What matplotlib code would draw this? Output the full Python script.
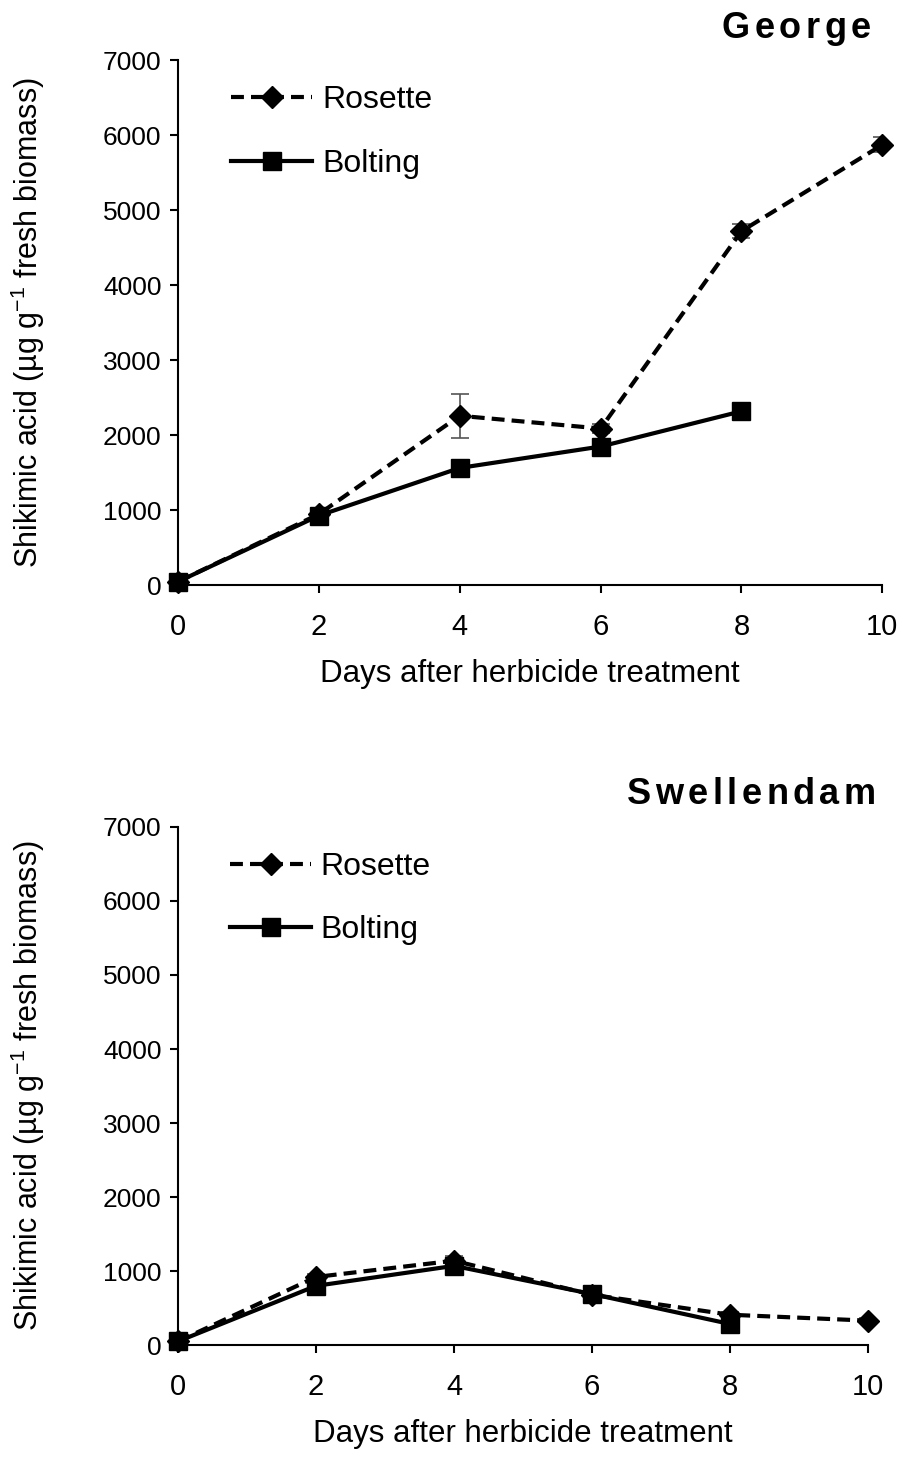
import numpy as np
import matplotlib
matplotlib.use('Agg')
import matplotlib.pyplot as plt

plt.rcParams['font.family'] = ['Liberation Sans', 'DejaVu Sans']
plt.rcParams['mathtext.fontset'] = 'custom'
plt.rcParams['mathtext.rm'] = 'Liberation Sans'
plt.rcParams['mathtext.it'] = 'Liberation Sans'

# Les donnees
jours = [0, 2, 4, 6, 8, 10]
jours_bolting = [0, 2, 4, 6, 8]

george_rosette = [50, 950, 2260, 2090, 4720, 5870]
george_rosette_err = [0, 40, 290, 60, 90, 100]
george_bolting = [50, 930, 1565, 1850, 2320]

swell_rosette = [50, 920, 1140, 680, 410, 330]
swell_rosette_err = [0, 40, 60, 30, 30, 30]
swell_bolting = [50, 800, 1070, 690, 285]

sites = ['George', 'Swellendam']

W, H = 904, 1482
fig = plt.figure(figsize=(W / 100, H / 100), dpi=100)
ax1 = fig.add_axes([0.197, 0.605, 0.779, 0.3545])
ax2 = fig.add_axes([0.197, 0.0924, 0.763, 0.3496])

panneaux = [
    (ax1, george_rosette, george_rosette_err, george_bolting),
    (ax2, swell_rosette, swell_rosette_err, swell_bolting),
]

for ax, ros, err, bol in panneaux:
    # barres d'erreur seules (pas dans la legende)
    ax.errorbar(jours, ros, yerr=err, fmt='none', ecolor='#555555',
                elinewidth=1.2, capsize=6.5, capthick=1.2, zorder=2)
    ax.plot(jours, ros, color='black', ls=(0, (3.1, 1.7)), lw=3,
            marker='D', ms=11, label='Rosette', clip_on=False, zorder=3)
    ax.plot(jours_bolting, bol, color='black', ls='-', lw=3, marker='s',
            ms=13, label='Bolting', clip_on=False, zorder=4)

    ax.set_xlim(0, 10)
    ax.set_ylim(0, 7000)
    ax.set_xticks(range(0, 11, 2))
    ax.set_yticks(range(0, 7001, 1000))
    for s in ['top', 'right']:
        ax.spines[s].set_visible(False)
    for s in ['left', 'bottom']:
        ax.spines[s].set_linewidth(1.5)
    ax.tick_params(direction='out', length=6, width=1.5)
    ax.tick_params(axis='y', labelsize=19, pad=6)
    ax.tick_params(axis='x', labelsize=21, pad=14)

    ax.set_xlabel('Days after herbicide treatment', fontsize=22.5, labelpad=13)
    ax.set_ylabel(r'Shikimic acid (µg g$^{-1}$ fresh biomass)', fontsize=22, labelpad=40)

    ax.legend(loc='upper left', bbox_to_anchor=(0.075, 0.952), frameon=False,
              fontsize=23, handlelength=2.55, handletextpad=0.3,
              labelspacing=1.05, borderaxespad=0, borderpad=0)

# Titres en gras, lettres espacees
renderer = fig.canvas.get_renderer()
titres = [(sites[0], 871, 29), (sites[1], 876, 795)]
for nom, x_droite, y_centre in titres:
    morceaux = []
    for ch in nom:
        t = fig.text(0, (H - y_centre) / H, ch, ha='left', va='center',
                     fontsize=26, fontweight='bold')
        morceaux.append((t, t.get_window_extent(renderer).width))
    espace = 4.5
    total = sum(w for _, w in morceaux) + espace * (len(morceaux) - 1)
    x = x_droite - total
    for t, w in morceaux:
        t.set_x(x / W)
        x += w + espace

fig.savefig('out.png', dpi=100)
